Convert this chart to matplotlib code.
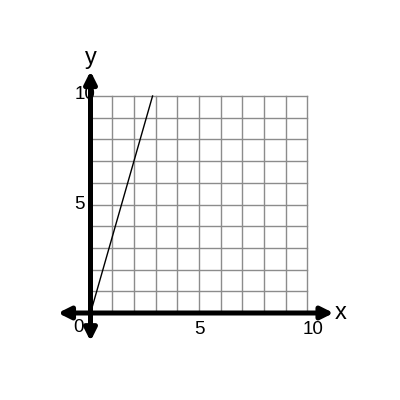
import numpy as np
import matplotlib.pyplot as plt

plt.rcParams['font.family'] = ['Liberation Sans', 'DejaVu Sans']

# grid extent and ticks
grid_max = 10
tick_vals = [5, 10]
# the plotted line
line_x = [0, 2.86]
line_y = [0, 10]

unit = 21.7  # pixels per data unit
fig = plt.figure(figsize=(4, 4), dpi=100)
ax = fig.add_axes([0, 0, 1, 1])
ax.set_xlim(-90.5 / unit, (400 - 90.5) / unit)
ax.set_ylim(-87 / unit, (400 - 87) / unit)
ax.axis('off')

# grid
for k in range(grid_max + 1):
    ax.plot([k, k], [0, grid_max], color='#8c8c8c', lw=1, zorder=1)
    ax.plot([0, grid_max], [k, k], color='#8c8c8c', lw=1, zorder=1)

# the line
ax.plot(line_x, line_y, color='black', lw=1, zorder=2)

# axes with arrows
arrow = dict(arrowstyle='<|-|>', lw=3.6, color='black', mutation_scale=18,
             shrinkA=0, shrinkB=0)
ax.annotate('', xy=(11.2, 0), xytext=(-1.5, 0), arrowprops=arrow, zorder=3)
ax.annotate('', xy=(0, 11.15), xytext=(0, -1.3), arrowprops=arrow, zorder=3)

# axis labels
ax.text(11.55, 0, 'x', fontsize=17, ha='center', va='center')
ax.text(0, 11.75, 'y', fontsize=17, ha='center', va='center')

# tick labels
ax.text(-0.53, -0.65, '0', fontsize=13.5, ha='center', va='center')
for v in tick_vals:
    xoff = 0.25 if v == 10 else 0
    ax.text(v + xoff, -0.78, str(v), fontsize=13.5, ha='center', va='center')
ax.text(-0.53, 5.02, '5', fontsize=13.5, ha='center', va='center')
ax.text(-0.25, 10.05, '10', fontsize=13.5, ha='center', va='center')

fig.savefig('out.png', dpi=100)
